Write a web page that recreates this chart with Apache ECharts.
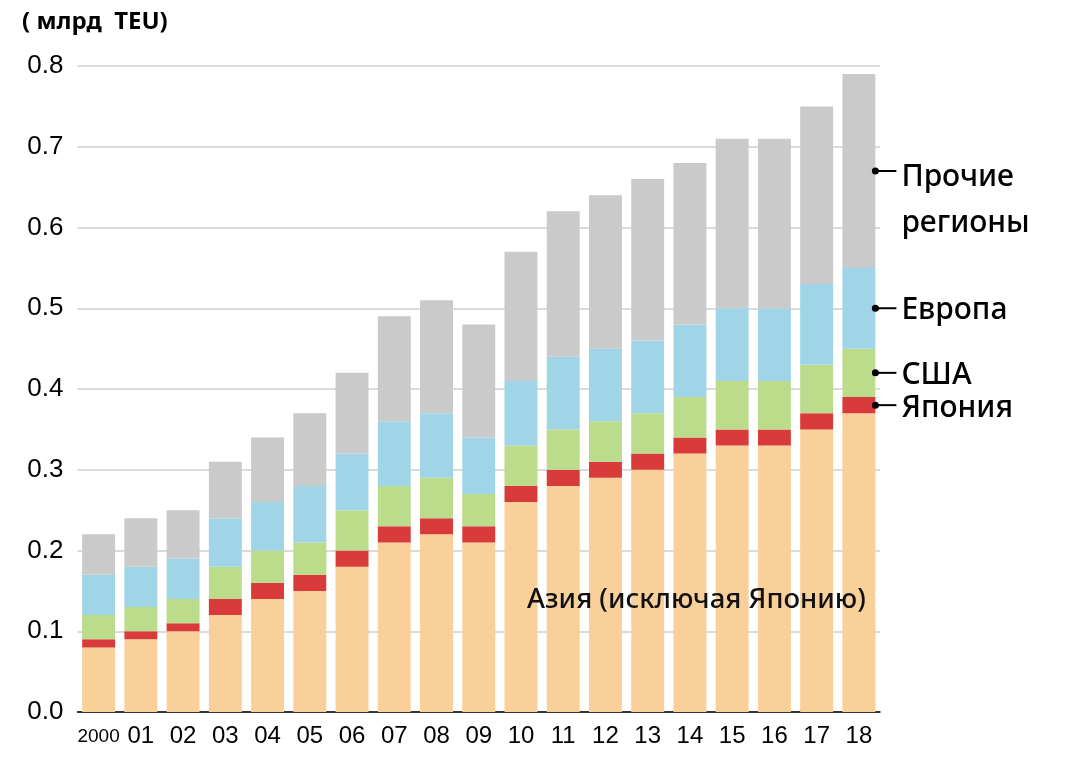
<!DOCTYPE html>
<html><head><meta charset="utf-8">
<script src="https://cdn.jsdelivr.net/npm/echarts@6/dist/echarts.min.js"></script>
<style>html,body{margin:0;padding:0;background:#fff}#c{width:1067px;height:769px}</style>
</head><body><div id="c"></div>
<script>
const categories = ['2000','01','02','03','04','05','06','07','08','09','10','11','12','13','14','15','16','17','18'];
const asia   = [0.08,0.09,0.10,0.12,0.14,0.15,0.18,0.21,0.22,0.21,0.26,0.28,0.29,0.30,0.32,0.33,0.33,0.35,0.37];
const japan  = [0.01,0.01,0.01,0.02,0.02,0.02,0.02,0.02,0.02,0.02,0.02,0.02,0.02,0.02,0.02,0.02,0.02,0.02,0.02];
const usa    = [0.03,0.03,0.03,0.04,0.04,0.04,0.05,0.05,0.05,0.04,0.05,0.05,0.05,0.05,0.05,0.06,0.06,0.06,0.06];
const europe = [0.05,0.05,0.05,0.06,0.06,0.07,0.07,0.08,0.08,0.07,0.08,0.09,0.09,0.09,0.09,0.09,0.09,0.10,0.10];
const others = [0.05,0.06,0.06,0.07,0.08,0.09,0.10,0.13,0.14,0.14,0.16,0.18,0.19,0.20,0.20,0.21,0.21,0.22,0.24];
const yTicks = [0,0.1,0.2,0.3,0.4,0.5,0.6,0.7,0.8];
const seriesNames = ['Азия (исключая Японию)','Япония','США','Европа','Прочие регионы'];
const unitLabel = '( млрд  TEU)';

const colors = ['#F9D09A','#D93B3B','#BADC8B','#A0D5E8','#CACACA'];
const dataSets = [asia, japan, usa, europe, others];
const chart = echarts.init(document.getElementById('c'));
const option = {
  animation:false,
  grid:{left:77.5,right:187,top:66,bottom:57,containLabel:false},
  xAxis:{type:'category',data:categories,
    axisLine:{lineStyle:{color:'#000',width:1.5}},axisTick:{show:false},
    axisLabel:{interval:0,margin:12,fontFamily:'Liberation Sans, Arial',color:'#000',fontSize:24,
      formatter:(v)=> v==='2000' ? '{s|'+v+'}' : v,
      rich:{s:{fontSize:19,fontFamily:'Liberation Sans, Arial',color:'#000',padding:[3,0,0,0]}}}},
  yAxis:{type:'value',min:0,max:0.8,interval:0.1,
    axisLine:{show:false},axisTick:{show:false},
    splitLine:{lineStyle:{color:'#cfcfcf',width:1.5}},
    axisLabel:{margin:14,fontFamily:'Liberation Sans, Arial',color:'#000',fontSize:26,
      formatter:(v)=>v.toFixed(1)}},
  series: dataSets.map((d,i)=>({
    type:'bar',name:seriesNames[i],stack:'t',data:d,barCategoryGap:'22%',
    itemStyle:{color:colors[i]}
  }))
};
chart.setOption(option);

// annotations tied to last bar
const last = categories.length-1;
let cum = 0;
const g = [];
const bandHalf = 33/2;
const labelSpecs = [null,
  {text:'Япония',dy:3},
  {text:'США',dy:3},
  {text:'Европа',dy:2},
  {text:'Прочие\nрегионы',dy:29}];
for (let i=0;i<dataSets.length;i++){
  const lo = cum, hi = cum + dataSets[i][last];
  cum = hi;
  if (!labelSpecs[i]) continue;
  const p = chart.convertToPixel({gridIndex:0},[last,(lo+hi)/2]);
  const x0 = p[0]+bandHalf;
  g.push({type:'circle',z:100,shape:{cx:x0,cy:p[1],r:3.5},style:{fill:'#000'}});
  g.push({type:'line',z:100,shape:{x1:x0,y1:p[1],x2:x0+21,y2:p[1]},style:{stroke:'#000',lineWidth:2}});
  g.push({type:'text',z:100,x:x0+26,y:p[1]+labelSpecs[i].dy,style:{text:labelSpecs[i].text,fill:'#000',
    font:'500 30px "Noto Sans", sans-serif',verticalAlign:'middle',lineHeight:46}});
}
const ap = chart.convertToPixel({gridIndex:0},[10,0.138]);
g.push({type:'text',z:100,x:ap[0]+6,y:ap[1],style:{text:seriesNames[0],fill:'#111',
  font:'500 27.5px "Noto Sans", sans-serif',verticalAlign:'middle'}});
g.push({type:'text',z:100,x:22,y:22,style:{text:unitLabel,fill:'#000',
  font:'bold 24px "Noto Sans", sans-serif',verticalAlign:'middle'}});
chart.setOption({graphic:g});
</script></body></html>
